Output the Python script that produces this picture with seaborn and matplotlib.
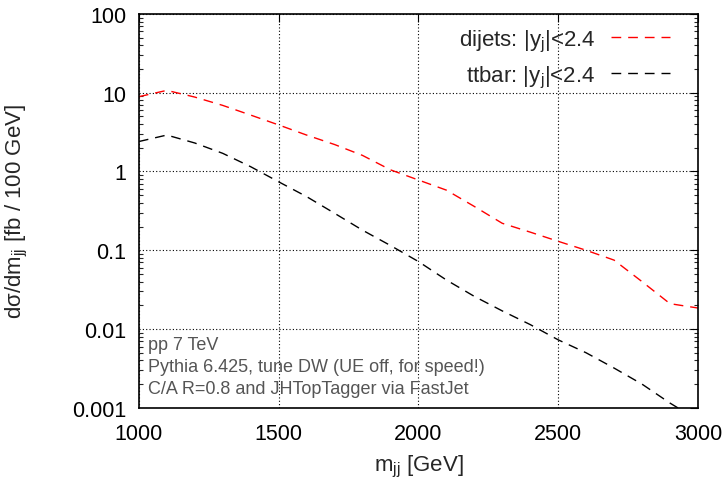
import matplotlib
matplotlib.use("Agg")
import matplotlib.pyplot as plt
import seaborn as sns
import pandas as pd
import numpy as np
from matplotlib.ticker import LogLocator, NullFormatter
from matplotlib.lines import Line2D

mjj = [1000, 1100, 1200, 1300, 1400, 1500, 1600, 1700, 1800, 1900, 2000,
       2100, 2200, 2300, 2400, 2500, 2600, 2700, 2800, 2900, 3000]
dijets = [8.9, 10.7, 8.8, 6.9, 5.2, 3.9, 2.9, 2.2, 1.6, 1.05, 0.78,
          0.58, 0.36, 0.22, 0.17, 0.13, 0.10, 0.075, 0.04, 0.021, 0.0185]
ttbar = [2.4, 2.9, 2.3, 1.7, 1.15, 0.74, 0.48, 0.295, 0.18, 0.115, 0.072,
         0.042, 0.026, 0.017, 0.0114, 0.0073, 0.005, 0.0032, 0.002, 0.00115, 0.0007]
labels = [r"dijets: $|\mathregular{y_j}|$<2.4", r"ttbar: $|\mathregular{y_j}|$<2.4"]
notes = ["pp 7 TeV", "Pythia 6.425, tune DW (UE off, for speed!)",
         "C/A R=0.8 and JHTopTagger via FastJet"]
xticks = [1000, 1500, 2000, 2500, 3000]
yticks = [0.001, 0.01, 0.1, 1, 10, 100]
yticklabels = ["0.001", "0.01", "0.1", "1", "10", "100"]

df = pd.DataFrame({
    "mjj": mjj * 2,
    "val": dijets + ttbar,
    "series": [labels[0]] * len(mjj) + [labels[1]] * len(mjj),
})

sns.set_style("white")
plt.rcParams["font.family"] = ["Liberation Sans", "DejaVu Sans"]
plt.rcParams["mathtext.fontset"] = "custom"
plt.rcParams["mathtext.rm"] = "Liberation Sans"
plt.rcParams["mathtext.it"] = "Liberation Sans"

fig = plt.figure(figsize=(7.27, 4.81), dpi=100)
ax = fig.add_axes([0.191, 0.150, 0.769, 0.819])

sns.lineplot(data=df, x="mjj", y="val", hue="series", style="series",
             palette={labels[0]: "#ff0000", labels[1]: "#000000"},
             dashes={labels[0]: (7, 5), labels[1]: (7, 5)},
             linewidth=1.0, ax=ax, legend=False)

ax.set_yscale("log")
ax.set_xlim(1000, 3000)
ax.set_ylim(0.001, 100)
ax.set_xticks(xticks)
ax.set_xticklabels([str(v) for v in xticks])
ax.set_yticks(yticks)
ax.set_yticklabels(yticklabels)
ax.yaxis.set_minor_locator(LogLocator(base=10, subs=np.arange(2, 10)))
ax.yaxis.set_minor_formatter(NullFormatter())

ax.tick_params(axis="both", which="major", direction="in", length=6, width=0.8,
               top=True, right=True, labelsize=15.5, pad=9, colors="black")
ax.tick_params(axis="x", which="major", pad=11)
ax.tick_params(axis="y", which="minor", direction="in", length=3, width=0.8,
               right=True, left=True)

ax.grid(True, which="major", linestyle=(0, (1, 2)), color="black", linewidth=0.8)
for s in ax.spines.values():
    s.set_color("black")
    s.set_linewidth(1.2)

ax.set_xlabel(r"m$_{\mathregular{jj}}$ [GeV]", fontsize=16, labelpad=6)
ax.set_ylabel(r"d$\sigma$/dm$_{\mathregular{jj}}$ [fb / 100 GeV]", fontsize=16)
ax.yaxis.set_label_coords(-0.194, 0.5)

handles = [Line2D([], [], color="#ff0000", linestyle=(0, (7, 5)), linewidth=1.0),
           Line2D([], [], color="#000000", linestyle=(0, (7, 5)), linewidth=1.0)]
ax.legend(handles, labels, loc="upper right", frameon=False, markerfirst=False,
          fontsize=16, handlelength=2.65, handletextpad=0.7, labelspacing=0.45,
          bbox_to_anchor=(0.977, 1.005), borderaxespad=0.3)

for i, t in enumerate(notes):
    ax.text(0.017, 0.162 - i * 0.057, t, transform=ax.transAxes, fontsize=13,
            color="#555555", va="center", ha="left")

fig.savefig("out.png", dpi=100, facecolor="white")
